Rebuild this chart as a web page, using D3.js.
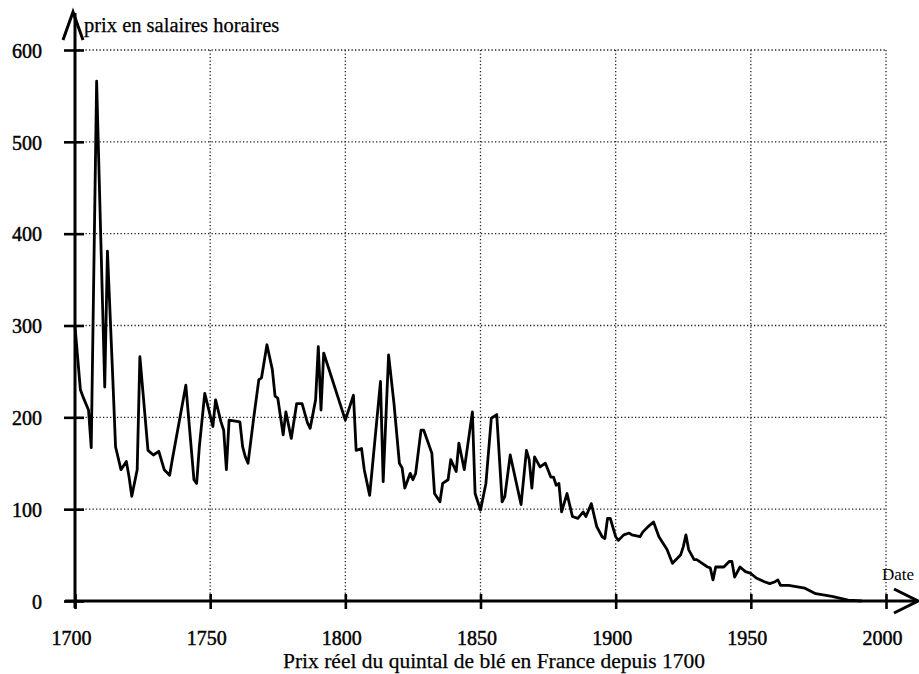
<!DOCTYPE html>
<html><head><meta charset="utf-8">
<script src="https://cdn.jsdelivr.net/npm/d3@7"></script>
<style>html,body{margin:0;padding:0;background:#fff;}svg{display:block;}</style>
</head><body>
<script>
const years = [1700,1702,1703,1705,1706,1708,1711,1712,1714,1715,1717,1719,1720,1721,1723,1724,1727,1729,1731,1733,1735,1736,1741,1744,1745,1746,1748,1751,1752,1754,1755,1756,1757,1761,1762,1763,1764,1766,1768,1769,1771,1773,1774,1775,1777,1778,1780,1782,1784,1786,1787,1789,1790,1791,1792,1800,1803,1804,1806,1807,1809,1813,1814,1816,1818,1820,1821,1822,1824,1825,1826,1828,1829,1832,1833,1835,1836,1838,1839,1841,1842,1844,1845,1847,1848,1850,1852,1854,1856,1858,1859,1861,1863,1865,1867,1868,1869,1870,1872,1874,1876,1877,1878,1879,1880,1882,1884,1886,1888,1889,1891,1893,1895,1896,1897,1898,1900,1901,1903,1905,1906,1909,1910,1912,1914,1916,1919,1921,1924,1925,1926,1927,1929,1930,1932,1934,1935,1936,1937,1940,1942,1943,1944,1946,1948,1950,1952,1955,1957,1959,1960,1961,1964,1970,1974,1980,1986,1991];
const prices = [299,230,222,208,167,566,233,381,241,168,143,152,135,114,143,266,164,159,163,143,137,154,235,132,128,168,226,190,219,195,186,143,197,195,168,157,150,197,241,243,279,252,223,221,181,206,177,215,215,194,188,219,277,208,270,197,224,164,166,143,115,239,130,268,215,150,145,123,139,132,139,186,186,161,117,108,128,132,154,141,172,143,164,206,117,99,128,199,203,108,114,159,132,105,164,154,123,157,146,150,135,135,126,128,97,117,92,90,97,92,106,81,70,68,90,90,70,66,72,74,72,70,75,81,86,70,56,41,50,59,72,56,45,45,41,37,36,23,37,37,43,43,26,37,32,30,25,21,19,21,23,17,17,14,8,5,1,0];
const yTicks = [0,100,200,300,400,500,600];
const xTicks = [1700,1750,1800,1850,1900,1950,2000];
const yTitle = "prix en salaires horaires";
const xTitle = "Date";
const caption = "Prix réel du quintal de blé en France depuis 1700";

const W = 919, H = 674;
const svg = d3.select("body").append("svg").attr("width", W).attr("height", H)
  .style("font-family", "'Liberation Serif','Times New Roman',serif");
const x = d3.scaleLinear().domain([1700, 2000]).range([75, 886]);
const y = d3.scaleLinear().domain([0, 600]).range([601, 50]);

// grid
const grid = svg.append("g").attr("stroke", "#222").attr("stroke-width", 1.3).attr("stroke-dasharray", "1.3,2.2");
grid.selectAll("line.h").data(yTicks.filter(d => d > 0)).join("line")
  .attr("x1", x(1700)).attr("x2", x(2000)).attr("y1", d => y(d)).attr("y2", d => y(d));
grid.selectAll("line.v").data(xTicks.filter(d => d > 1700)).join("line")
  .attr("x1", d => x(d)).attr("x2", d => x(d)).attr("y1", y(600)).attr("y2", y(0));

// data line
const pts = years.map((d, i) => [d, prices[i]]);
svg.append("path").datum(pts)
  .attr("fill", "none").attr("stroke", "#000").attr("stroke-width", 2.8)
  .attr("stroke-linejoin", "round")
  .attr("d", d3.line().x(d => x(d[0])).y(d => y(d[1])));

const labelStyle = sel => sel.style("font-size", "20px").attr("fill", "#000")
  .attr("stroke", "#000").attr("stroke-width", 0.45)
  .style("font-family", "'Liberation Serif',serif");

// y axis
const yAxis = d3.axisLeft(y).tickValues(yTicks).tickSize(0).tickPadding(0).tickFormat(d3.format("d"));
const gy = svg.append("g").attr("transform", `translate(${x(1700)},0)`).call(yAxis);
gy.select(".domain").remove();
gy.selectAll(".tick text").attr("x", -33).attr("dy", "0.36em").call(labelStyle);
gy.selectAll(".tick").append("line").attr("x1", -11).attr("x2", 9)
  .attr("stroke", "#000").attr("stroke-width", 2.6);
svg.append("line").attr("x1", x(1700)).attr("x2", x(1700)).attr("y1", y(0) + 7).attr("y2", 13)
  .attr("stroke", "#000").attr("stroke-width", 3);
svg.append("path").attr("d", `M${x(1700) - 12},40 L${x(1700) - 2},12 L${x(1700) + 8},40`)
  .attr("fill", "none").attr("stroke", "#000").attr("stroke-width", 3).attr("stroke-linejoin", "miter");
svg.append("text").attr("x", 84).attr("y", 32).text(yTitle)
  .style("font-size", "20.5px").attr("fill", "#000").attr("stroke", "#000").attr("stroke-width", 0.25);

// x axis
const xAxis = d3.axisBottom(x).tickValues(xTicks).tickSize(0).tickPadding(0).tickFormat(d3.format("d"));
const gx = svg.append("g").attr("transform", `translate(0,${y(0)})`).call(xAxis);
gx.select(".domain").remove();
gx.selectAll(".tick text").attr("y", 44).attr("dy", 0).attr("x", -4).call(labelStyle);
gx.selectAll(".tick").append("line").attr("y1", -7).attr("y2", 8)
  .attr("stroke", "#000").attr("stroke-width", 2.6);
svg.append("line").attr("x1", x(1700) - 10).attr("x2", 916).attr("y1", y(0)).attr("y2", y(0))
  .attr("stroke", "#000").attr("stroke-width", 3);
svg.append("path").attr("d", `M894,589 L918,601 L894,613`)
  .attr("fill", "none").attr("stroke", "#000").attr("stroke-width", 3);
svg.append("text").attr("x", 882).attr("y", 580).text(xTitle)
  .style("font-size", "17px").attr("fill", "#000");

svg.append("text").attr("x", 494).attr("y", 668).attr("text-anchor", "middle").text(caption)
  .style("font-size", "21px").attr("fill", "#000").attr("stroke", "#000").attr("stroke-width", 0.25)
  .attr("textLength", 422).attr("lengthAdjust", "spacingAndGlyphs");
</script>
</body></html>
